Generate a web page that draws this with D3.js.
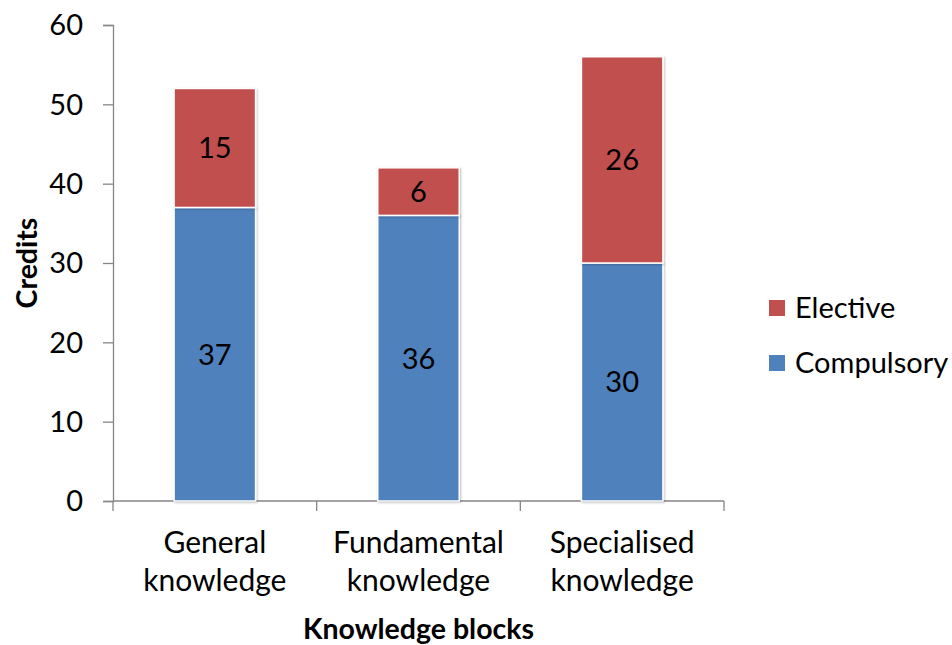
<!DOCTYPE html>
<html>
<head>
<meta charset="utf-8">
<script src="https://cdn.jsdelivr.net/npm/d3@7"></script>
<style>
  body { margin: 0; background: #fff; }
  text { font-family: Lato, "Open Sans", sans-serif; fill: #000; }
</style>
</head>
<body>
<svg width="952" height="645"></svg>
<script>
// data
const blocks = [["General", "knowledge"], ["Fundamental", "knowledge"], ["Specialised", "knowledge"]];
const compulsory = [37, 36, 30];
const elective = [15, 6, 26];
const seriesNames = ["Compulsory", "Elective"];
const seriesColors = ["#4f81bd", "#c0504d"];
const yTicks = [0, 10, 20, 30, 40, 50, 60];

const svg = d3.select("svg");
const plotLeft = 113, plotRight = 724, plotTop = 25, plotBottom = 501;
const fs = 29;

// shadow under the bars
const defs = svg.append("defs");
const f = defs.append("filter").attr("id", "shadow").attr("x", "-10%").attr("y", "-10%").attr("width", "120%").attr("height", "120%");
f.append("feDropShadow").attr("dx", 1).attr("dy", 1).attr("stdDeviation", 1.2).attr("flood-color", "#000").attr("flood-opacity", 0.25);

let y = d3.scaleLinear().domain([0, 60]).range([plotBottom, plotTop]);
let x = d3.scaleBand().domain(d3.range(blocks.length)).range([plotLeft, plotRight]).paddingInner(0.6).paddingOuter(0.3);
let xCat = d3.scaleBand().domain(d3.range(blocks.length)).range([plotLeft, plotRight]);

let rows = blocks.map(function (b, i) { return {i: i, Compulsory: compulsory[i], Elective: elective[i]}; });
let stacked = d3.stack().keys(seriesNames)(rows);

// axes
const axisColor = "#868686";
let yAxis = svg.append("g").attr("transform", "translate(" + plotLeft + ",0)")
  .call(d3.axisLeft(y).tickValues(yTicks).tickSize(10).tickPadding(20));
yAxis.select(".domain").attr("stroke", axisColor).attr("stroke-width", 1.3);
yAxis.selectAll(".tick line").attr("stroke", axisColor).attr("stroke-width", 1.3);
yAxis.selectAll(".tick text").attr("font-size", fs).attr("font-family", "Lato").attr("fill", "#000").attr("dy", "0.34em");

let xg = svg.append("g");
xg.append("line").attr("x1", plotLeft).attr("x2", plotRight).attr("y1", plotBottom).attr("y2", plotBottom)
  .attr("stroke", axisColor).attr("stroke-width", 1.3);
let bounds = xCat.domain().map(function (d) { return xCat(d); }).concat([plotRight]);
xg.selectAll("line.tk").data(bounds).enter().append("line").attr("class", "tk")
  .attr("x1", function (d) { return d; }).attr("x2", function (d) { return d; })
  .attr("y1", plotBottom).attr("y2", plotBottom + 10)
  .attr("stroke", axisColor).attr("stroke-width", 1.3);

// bars
let layers = svg.selectAll("g.layer").data(stacked).enter().append("g")
  .attr("class", "layer")
  .attr("fill", function (d, i) { return seriesColors[i]; });

layers.selectAll("rect").data(function (d) { return d; }).enter().append("rect")
  .attr("x", function (d) { return x(d.data.i); })
  .attr("width", x.bandwidth())
  .attr("y", function (d) { return y(d[1]); })
  .attr("height", function (d) { return y(d[0]) - y(d[1]); })
  .attr("stroke", "#fff").attr("stroke-width", 1.5)
  .attr("filter", "url(#shadow)");

// value labels
layers.selectAll("text").data(function (d) { return d; }).enter().append("text")
  .attr("x", function (d) { return x(d.data.i) + x.bandwidth() / 2; })
  .attr("y", function (d) { return (y(d[0]) + y(d[1])) / 2; })
  .attr("dy", "0.36em")
  .attr("text-anchor", "middle")
  .attr("font-size", fs)
  .text(function (d) { return d[1] - d[0]; });

// category labels
let cats = svg.selectAll("text.cat").data(blocks).enter().append("text")
  .attr("class", "cat")
  .attr("text-anchor", "middle")
  .attr("font-size", fs + 1);
cats.each(function (b, i) {
  let t = d3.select(this);
  b.forEach(function (line, k) {
    t.append("tspan").attr("x", x(i) + x.bandwidth() / 2).attr("y", 553 + k * 38).text(line);
  });
});

// axis titles
svg.append("text").attr("x", (plotLeft + plotRight) / 2).attr("y", 639)
  .attr("text-anchor", "middle").attr("font-size", 28.5).attr("font-weight", "bold")
  .text("Knowledge blocks");
svg.append("text").attr("transform", "translate(37,263) rotate(-90)")
  .attr("text-anchor", "middle").attr("font-size", 28.5).attr("font-weight", "bold")
  .text("Credits");

// legend
let legendItems = [1, 0];
let lg = svg.selectAll("g.legend").data(legendItems).enter().append("g")
  .attr("class", "legend")
  .attr("transform", function (d, k) { return "translate(769," + (300 + k * 55) + ")"; });
lg.append("rect").attr("width", 16).attr("height", 16)
  .attr("fill", function (d) { return seriesColors[d]; });
lg.append("text").attr("x", 26).attr("y", 18).attr("font-size", fs)
  .text(function (d) { return seriesNames[d]; });
</script>
</body>
</html>
